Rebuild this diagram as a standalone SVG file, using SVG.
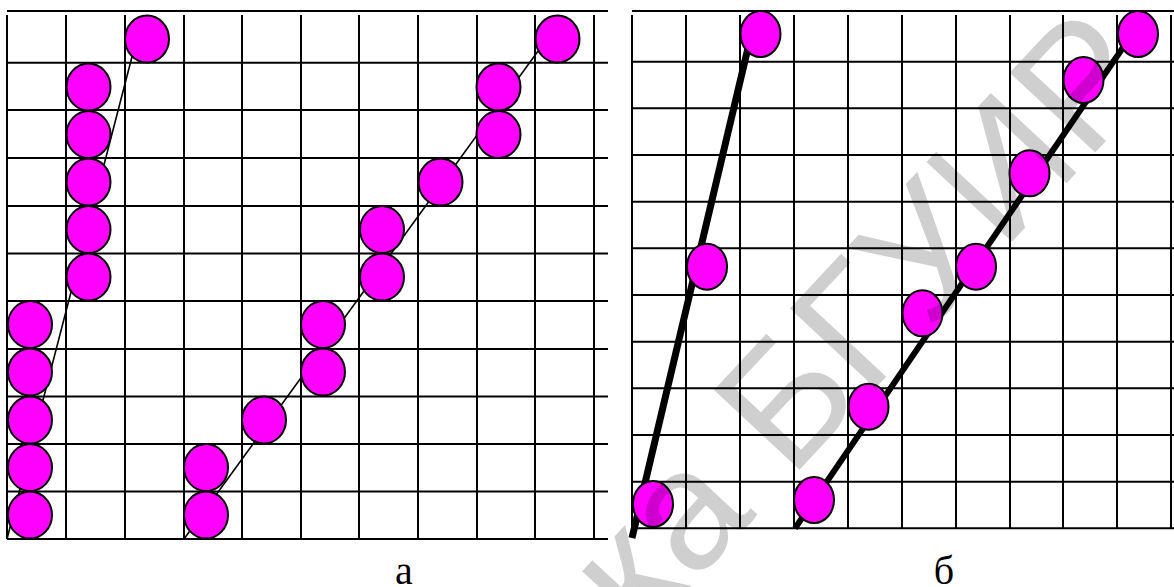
<svg xmlns="http://www.w3.org/2000/svg" width="1174" height="587" viewBox="0 0 1174 587">
<style>
.g{stroke:#000;stroke-width:2;fill:none}
.thin{stroke:#000;stroke-width:1.6;fill:none}
.thick{stroke:#000;fill:none}
.dl{fill:#ff00ff;stroke:#000;stroke-width:2}
.lbl{font-family:"Liberation Serif","Times New Roman",serif;font-size:40px;fill:#000;text-anchor:middle}
.wm{font-family:"Liberation Sans",Arial,sans-serif;font-size:170px;fill:#000;fill-opacity:0.19}
</style>
<rect width="1174" height="587" fill="#fff"/>
<g id="grid-a" class="g">
<path d="M7 11H608"/>
<path d="M7 15V539M66 15V539M125 15V539M184 15V539M242 15V539M301 15V539M359 15V539M418 15V539M477 15V539M535 15V539M594 15V539"/>
<path d="M7 62.7H608M7 110H608M7 158H608M7 206H608M7 253.5H608M7 301H608M7 349H608M7 396.5H608M7 444H608M7 491.5H608M7 539H608"/>
</g>
<g id="grid-b" class="g">
<path d="M632 11H1174"/>
<path d="M632 15V528.3M686 15V528.3M740 15V528.3M794 15V528.3M848 15V528.3M902 15V528.3M956 15V528.3M1010 15V528.3M1063 15V528.3M1117 15V528.3M1171 15V528.3"/>
<path d="M632 61.7H1174M632 108.3H1174M632 155H1174M632 201.7H1174M632 248.3H1174M632 295H1174M632 341.7H1174M632 388.3H1174M632 435H1174M632 481.7H1174M632 528.3H1174"/>
</g>
<g id="connectors">
<path class="thin" d="M7 539L134 49"/>
<path class="thin" d="M184 539L541 47"/>
<path class="thick" stroke-width="7" d="M632 538L748 48"/>
<path class="thick" stroke-width="6" d="M795 528.3L1124 46"/>
</g>
<g id="nodes-a">
<g id="a1"><ellipse class="dl" cx="30" cy="515" rx="22" ry="23.5"/></g>
<g id="a2"><ellipse class="dl" cx="30" cy="467.5" rx="22" ry="23.5"/></g>
<g id="a3"><ellipse class="dl" cx="30" cy="420" rx="22" ry="23.5"/></g>
<g id="a4"><ellipse class="dl" cx="30" cy="372" rx="22" ry="23.5"/></g>
<g id="a5"><ellipse class="dl" cx="30" cy="324.5" rx="22" ry="23.5"/></g>
<g id="a6"><ellipse class="dl" cx="88.5" cy="277" rx="22" ry="23.5"/></g>
<g id="a7"><ellipse class="dl" cx="88.5" cy="229.5" rx="22" ry="23.5"/></g>
<g id="a8"><ellipse class="dl" cx="88.5" cy="182" rx="22" ry="23.5"/></g>
<g id="a9"><ellipse class="dl" cx="88.5" cy="134.5" rx="22" ry="23.5"/></g>
<g id="a10"><ellipse class="dl" cx="88.5" cy="87" rx="22" ry="23.5"/></g>
<g id="a11"><ellipse class="dl" cx="147" cy="39" rx="22" ry="23.5"/></g>
<g id="a12"><ellipse class="dl" cx="206" cy="515" rx="22" ry="23.5"/></g>
<g id="a13"><ellipse class="dl" cx="206" cy="467.5" rx="22" ry="23.5"/></g>
<g id="a14"><ellipse class="dl" cx="264" cy="420" rx="22" ry="23.5"/></g>
<g id="a15"><ellipse class="dl" cx="323" cy="372" rx="22" ry="23.5"/></g>
<g id="a16"><ellipse class="dl" cx="323" cy="324.5" rx="22" ry="23.5"/></g>
<g id="a17"><ellipse class="dl" cx="382" cy="277" rx="22" ry="23.5"/></g>
<g id="a18"><ellipse class="dl" cx="382" cy="229.5" rx="22" ry="23.5"/></g>
<g id="a19"><ellipse class="dl" cx="440.5" cy="182" rx="22" ry="23.5"/></g>
<g id="a20"><ellipse class="dl" cx="498.5" cy="134.5" rx="22" ry="23.5"/></g>
<g id="a21"><ellipse class="dl" cx="498.5" cy="87" rx="22" ry="23.5"/></g>
<g id="a22"><ellipse class="dl" cx="557.5" cy="39" rx="22" ry="23.5"/></g>
</g>
<g id="nodes-b">
<g id="b1"><ellipse class="dl" cx="653" cy="504" rx="20" ry="23"/></g>
<g id="b2"><ellipse class="dl" cx="707" cy="266.7" rx="20" ry="23"/></g>
<g id="b3"><ellipse class="dl" cx="760.5" cy="34" rx="20" ry="23"/></g>
<g id="b4"><ellipse class="dl" cx="814" cy="500" rx="20" ry="23"/></g>
<g id="b5"><ellipse class="dl" cx="868.5" cy="406.7" rx="20" ry="23"/></g>
<g id="b6"><ellipse class="dl" cx="922.5" cy="313.3" rx="20" ry="23"/></g>
<g id="b7"><ellipse class="dl" cx="976" cy="266.7" rx="20" ry="23"/></g>
<g id="b8"><ellipse class="dl" cx="1029.5" cy="173.3" rx="20" ry="23"/></g>
<g id="b9"><ellipse class="dl" cx="1083.5" cy="80" rx="20" ry="23"/></g>
<g id="b10"><ellipse class="dl" cx="1138" cy="34" rx="20" ry="23"/></g>
</g>
<g id="labels">
<text class="lbl" x="404" y="584">а</text>
<text class="lbl" x="944" y="584">б</text>
</g>
<g id="watermark" class="wm">
<text text-anchor="end" transform="translate(790 480) rotate(-47)">Библиотека&#160;</text>
<text transform="translate(790 480) rotate(-47)">БГУИР</text>
</g>
</svg>
